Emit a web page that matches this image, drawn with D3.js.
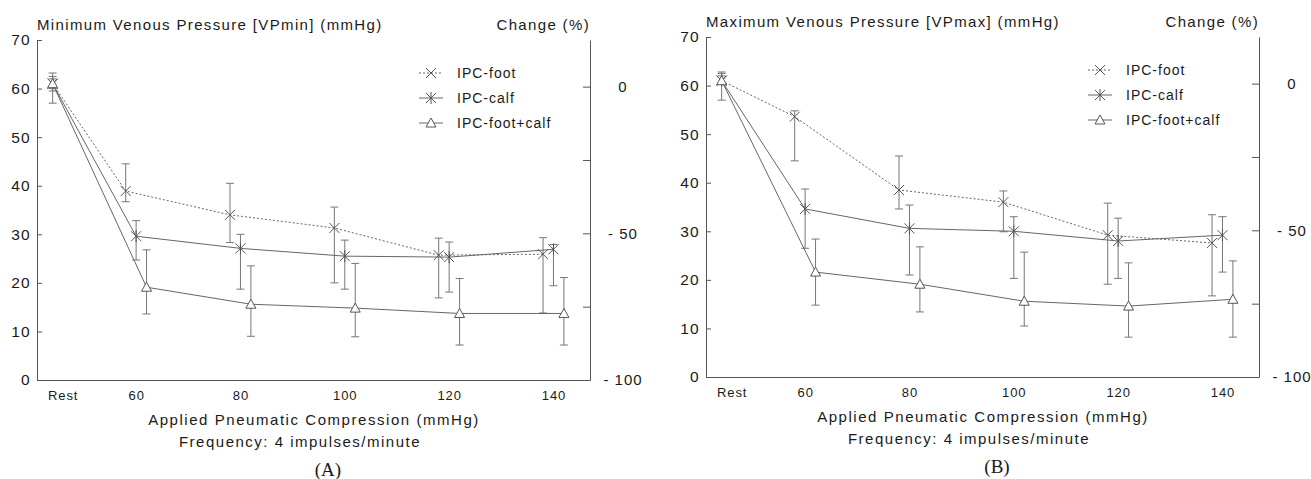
<!DOCTYPE html>
<html>
<head>
<meta charset="utf-8">
<script src="https://cdn.jsdelivr.net/npm/d3@7"></script>
<style>
  body { margin: 0; background: #fff; }
  svg text { font-family: "Liberation Sans", Arial, sans-serif; fill: #1a1a1a; }
</style>
</head>
<body>
<svg id="chart" width="1311" height="479"></svg>
<script>
// categories on the x axis (Rest is drawn left of 60 mmHg)
var categories = ["Rest", "60", "80", "100", "120", "140"];
var pressureX = [44, 60, 80, 100, 120, 140];
var seriesNames = ["IPC-foot", "IPC-calf", "IPC-foot+calf"];
var seriesShift = [-2, 0, 2];   // mmHg offset so the bars do not overlap
var restRef = 60.4;             // value that corresponds to 0 % change

// (A) minimum venous pressure
var footMin     = [61, 38.9, 34.0, 31.3, 25.7, 25.9];
var footMinLo   = [57, 36.7, 28.3, 20.0, 16.9, 13.8];
var footMinHi   = [63.2, 44.5, 40.5, 35.6, 29.2, 29.3];
var calfMin     = [61, 29.6, 27.1, 25.5, 25.3, 26.9];
var calfMinLo   = [59.5, 24.7, 18.7, 18.7, 18.1, 19.4];
var calfMinHi   = [62.5, 32.8, 30.0, 28.8, 28.4, 27.9];
var bothMin     = [61, 19.1, 15.6, 14.8, 13.7, 13.7];
var bothMinLo   = [60, 13.6, 9.0, 8.9, 7.2, 7.2];
var bothMinHi   = [62, 26.8, 23.5, 24.0, 20.9, 21.1];

// (B) maximum venous pressure
var footMax     = [61, 53.6, 38.5, 36.0, 29.2, 27.6];
var footMaxLo   = [57.0, 44.5, 34.6, 29.9, 19.1, 16.7];
var footMaxHi   = [62.8, 54.8, 45.5, 38.3, 35.8, 33.4];
var calfMax     = [61, 34.6, 30.6, 30.0, 28.0, 29.2];
var calfMaxLo   = [60.3, 26.5, 21.0, 20.3, 20.3, 21.6];
var calfMaxHi   = [62.5, 38.7, 35.4, 33.0, 32.7, 33.0];
var bothMax     = [61, 21.6, 19.1, 15.6, 14.6, 16.0];
var bothMaxLo   = [60.3, 14.8, 13.4, 10.5, 8.2, 8.2];
var bothMaxHi   = [62, 28.4, 26.8, 25.7, 23.5, 23.9];

var yTicks = [0, 10, 20, 30, 40, 50, 60, 70];
var pctTicks = [-100, -75, -50, -25, 0];
var pctLabels = [-100, -50, 0];

var panels = [
  { title: "Minimum Venous Pressure [VPmin] (mmHg)", tag: "(A)", dx: 0, dy: 0,
    series: [[footMin, footMinLo, footMinHi], [calfMin, calfMinLo, calfMinHi], [bothMin, bothMinLo, bothMinHi]] },
  { title: "Maximum Venous Pressure [VPmax] (mmHg)", tag: "(B)", dx: 669, dy: -3,
    series: [[footMax, footMaxLo, footMaxHi], [calfMax, calfMaxLo, calfMaxHi], [bothMax, bothMaxLo, bothMaxHi]] }
];

var svg = d3.select("#chart");

var x = d3.scaleLinear().domain([41, 147]).range([37, 590]);
var y = d3.scaleLinear().domain([0, 70]).range([380, 40]);
var yPct = d3.scaleLinear()
  .domain([-100, (70 / restRef - 1) * 100])
  .range([y(0), y(70)]);

var lineColor = "#666";

function marker(g, type) {
  var s = 5;
  if (type == 0 || type == 1) {
    g.append("path").attr("d", "M" + (-s) + "," + (-s) + "L" + s + "," + s + "M" + (-s) + "," + s + "L" + s + "," + (-s));
    if (type == 1) g.append("path").attr("d", "M0," + (-s - 1) + "L0," + (s + 1));
  } else {
    g.append("path").attr("d", "M-5,4L0,-5L5,4Z");
  }
  g.selectAll("path").attr("stroke", "#555").attr("stroke-width", 1).attr("fill", type == 2 ? "#fff" : "none");
}

panels.forEach(function(p) {
  var g = svg.append("g").attr("transform", "translate(" + p.dx + "," + p.dy + ")");

  // left axis
  var left = g.append("g").attr("transform", "translate(" + x.range()[0] + ",0)")
    .call(d3.axisLeft(y).tickValues(yTicks).tickSizeInner(-5).tickSizeOuter(0).tickPadding(6));
  left.selectAll("text").style("font-size", "15.5px").style("letter-spacing", "1.3px");

  // right axis (% change)
  var right = g.append("g").attr("transform", "translate(" + x.range()[1] + ",0)")
    .call(d3.axisRight(yPct).tickValues(pctTicks).tickSizeInner(-7).tickSizeOuter(0)
      .tickFormat(function(d) { return pctLabels.indexOf(d) >= 0 ? d3.format("d")(d).replace("−", "- ") : ""; }));
  right.selectAll("text").attr("x", 33).attr("text-anchor", "middle")
    .style("font-size", "15px").style("letter-spacing", "1px");

  // bottom axis
  var bottom = g.append("g").attr("transform", "translate(0," + y(0) + ")")
    .call(d3.axisBottom(x).tickValues(pressureX).tickSize(0).tickPadding(11)
      .tickFormat(function(d, i) { return categories[i]; }));
  bottom.selectAll("text").style("font-size", "13px").style("letter-spacing", "0.9px")
    .attr("dx", function(d, i) { return i == 0 ? 10 : 0; });

  g.selectAll(".domain, .tick line").attr("stroke", "#555");

  // series
  p.series.forEach(function(s, k) {
    var pts = s[0].map(function(v, i) {
      return { x: pressureX[i] + (i == 0 ? 0 : seriesShift[k]), v: v, lo: s[1][i], hi: s[2][i] };
    });
    var line = d3.line().x(function(d) { return x(d.x); }).y(function(d) { return y(d.v); });
    g.append("path").datum(pts).attr("d", line).attr("fill", "none")
      .attr("stroke", lineColor).attr("stroke-width", 1)
      .attr("stroke-dasharray", k == 0 ? "2,2" : null);

    var eb = g.append("g").selectAll("g").data(pts).enter().append("g")
      .attr("stroke", "#777").attr("stroke-width", 1);
    eb.append("line").attr("x1", function(d) { return x(d.x); }).attr("x2", function(d) { return x(d.x); })
      .attr("y1", function(d) { return y(d.lo); }).attr("y2", function(d) { return y(d.hi); });
    eb.append("line").attr("x1", function(d) { return x(d.x) - 4; }).attr("x2", function(d) { return x(d.x) + 4; })
      .attr("y1", function(d) { return y(d.lo); }).attr("y2", function(d) { return y(d.lo); });
    eb.append("line").attr("x1", function(d) { return x(d.x) - 4; }).attr("x2", function(d) { return x(d.x) + 4; })
      .attr("y1", function(d) { return y(d.hi); }).attr("y2", function(d) { return y(d.hi); });

    pts.forEach(function(d) {
      var m = g.append("g").attr("transform", "translate(" + x(d.x) + "," + y(d.v) + ")");
      marker(m, k);
    });
  });

  // legend
  seriesNames.forEach(function(name, k) {
    var ly = 73 + k * 25;
    g.append("line").attr("x1", 419).attr("x2", 443).attr("y1", ly).attr("y2", ly)
      .attr("stroke", lineColor).attr("stroke-dasharray", k == 0 ? "2,2" : null);
    marker(g.append("g").attr("transform", "translate(431," + ly + ")"), k);
    g.append("text").attr("x", 457).attr("y", ly + 5).text(name)
      .style("font-size", "14px").style("letter-spacing", "1px");
  });

  // titles
  g.append("text").attr("x", 37).attr("y", 30).text(p.title)
    .style("font-size", "15px").style("letter-spacing", "1.35px");
  g.append("text").attr("x", 590).attr("y", 30).attr("text-anchor", "end").text("Change (%)")
    .style("font-size", "15px").style("letter-spacing", "1.35px");
  g.append("text").attr("x", 314).attr("y", 425).attr("text-anchor", "middle")
    .text("Applied Pneumatic Compression (mmHg)")
    .style("font-size", "15px").style("letter-spacing", "1.55px");
  g.append("text").attr("x", 300).attr("y", 447).attr("text-anchor", "middle")
    .text("Frequency: 4 impulses/minute")
    .style("font-size", "15px").style("letter-spacing", "1.5px");
  g.append("text").attr("x", 328).attr("y", 476).attr("text-anchor", "middle").text(p.tag)
    .style("font-family", "'Liberation Serif', 'Times New Roman', serif").style("font-size", "19px");
});
</script>
</body>
</html>
